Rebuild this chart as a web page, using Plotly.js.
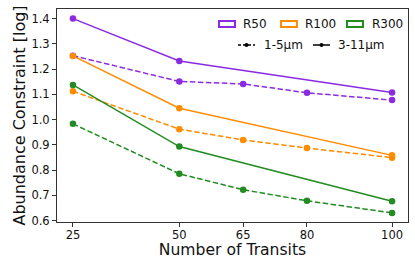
<!DOCTYPE html>
<html>
<head>
<meta charset="utf-8">
<script src="https://cdn.plot.ly/plotly-3.0.1.min.js"></script>
<style>html,body{margin:0;padding:0;background:#fff;}#chart{width:415px;height:259px;}</style>
</head>
<body>
<div id="chart"></div>
<script>
// ---- data ----
var xSolid = [25, 50, 100];
var xDashed = [25, 50, 65, 80, 100];
var r50Solid = [1.400, 1.232, 1.107];
var r50Dashed = [1.253, 1.151, 1.141, 1.106, 1.077];
var r100Solid = [1.252, 1.045, 0.858];
var r100Dashed = [1.112, 0.962, 0.919, 0.887, 0.849];
var r300Solid = [1.137, 0.893, 0.676];
var r300Dashed = [0.983, 0.785, 0.722, 0.678, 0.630];
var xTicks = [25, 50, 65, 80, 100];
var seriesNames = ['R50', 'R100', 'R300'];
var rangeNames = ['1-5μm', '3-11μm'];

var colors = ['#8A2BE2', '#FF8C00', '#228B22'];
var solids = [r50Solid, r100Solid, r300Solid];
var dashes = [r50Dashed, r100Dashed, r300Dashed];

var traces = [];
for (var i = 0; i < 3; i++) {
  traces.push({x: xSolid, y: solids[i], mode: 'lines+markers', name: seriesNames[i] + ' ' + rangeNames[1],
    line: {color: colors[i], width: 1.5}, marker: {color: colors[i], size: 6.5}, showlegend: false});
  traces.push({x: xDashed, y: dashes[i], mode: 'lines+markers', name: seriesNames[i] + ' ' + rangeNames[0],
    line: {color: colors[i], width: 1.5, dash: '5.5px,2.5px'}, marker: {color: colors[i], size: 6.5}, showlegend: false});
}

// plot area in pixels
var L = 57, R = 408, T = 9, B = 222;
function px(x) { return (x - L) / (R - L); }
function py(y) { return (B - y) / (B - T); }

var font = 'DejaVu Sans, sans-serif';
var shapes = [];
var annotations = [];
// legend row 1: outlined rectangles
var patchX = [219, 281, 347];
var textX = [241, 303, 370];
for (var j = 0; j < 3; j++) {
  shapes.push({type: 'rect', xref: 'paper', yref: 'paper',
    x0: px(patchX[j]), x1: px(patchX[j] + 16), y0: py(27), y1: py(21),
    line: {color: colors[j], width: 2}, fillcolor: 'rgba(0,0,0,0)'});
  annotations.push({xref: 'paper', yref: 'paper', x: px(textX[j]), y: py(24),
    xanchor: 'left', yanchor: 'middle', text: seriesNames[j], showarrow: false,
    font: {family: font, size: 12, color: '#111'}});
}
// legend row 2: line styles
var lineX = [238, 313];
var lineText = [262, 336];
var lineDash = ['3px,2px', 'solid'];
for (var k = 0; k < 2; k++) {
  shapes.push({type: 'line', xref: 'paper', yref: 'paper',
    x0: px(lineX[k]), x1: px(lineX[k] + 17), y0: py(45), y1: py(45),
    line: {color: '#000', width: 1.5, dash: lineDash[k]}});
  shapes.push({type: 'circle', xref: 'paper', yref: 'paper',
    x0: px(lineX[k] + 6.5), x1: px(lineX[k] + 10.5), y0: py(47), y1: py(43),
    line: {color: '#000', width: 0}, fillcolor: '#000'});
  annotations.push({xref: 'paper', yref: 'paper', x: px(lineText[k]), y: py(45),
    xanchor: 'left', yanchor: 'middle', text: rangeNames[k], showarrow: false,
    font: {family: font, size: 12, color: '#111'}});
}

var layout = {
  width: 415, height: 259,
  margin: {l: L, r: 415 - R, t: T, b: 259 - B, pad: 0},
  paper_bgcolor: '#fff', plot_bgcolor: '#fff',
  font: {family: font, color: '#111'},
  showlegend: false,
  xaxis: {
    range: [21.25, 103.75], tickvals: xTicks, ticktext: xTicks.map(String),
    ticks: 'outside', ticklen: 4, tickwidth: 1, tickcolor: '#333',
    showline: true, linecolor: '#333', linewidth: 1, mirror: true,
    showgrid: false, zeroline: false, ticklabelstandoff: -2,
    tickfont: {family: font, size: 11.5, color: '#111'},
    title: {text: 'Number of Transits', font: {family: font, size: 15.6, color: '#111'}, standoff: 8}
  },
  yaxis: {
    range: [0.594, 1.438], tickvals: [0.6, 0.7, 0.8, 0.9, 1.0, 1.1, 1.2, 1.3, 1.4], tickformat: '.1f',
    ticks: 'outside', ticklen: 4, tickwidth: 1, tickcolor: '#333',
    showline: true, linecolor: '#333', linewidth: 1, mirror: true,
    showgrid: false, zeroline: false,
    tickfont: {family: font, size: 11.5, color: '#111'},
    title: {text: 'Abundance Constraint [log]', font: {family: font, size: 16, color: '#111'}, standoff: 1}
  },
  shapes: shapes,
  annotations: annotations
};

Plotly.newPlot('chart', traces, layout, {displayModeBar: false, staticPlot: true});
</script>
</body>
</html>
